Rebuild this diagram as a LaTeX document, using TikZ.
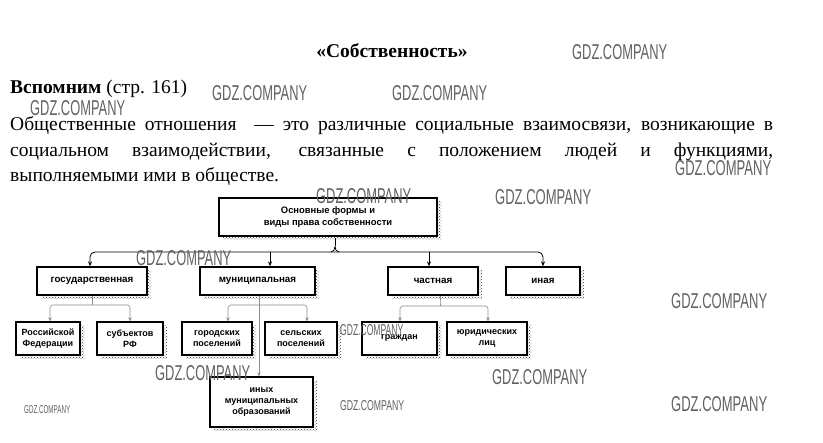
\documentclass[tikz,border=0pt]{standalone}
\usepackage{fontspec}
\setmainfont{Liberation Serif}
\newfontfamily\dfont{Liberation Sans}
\usetikzlibrary{arrows.meta,calc,shadows,patterns}
\newcommand\gdzmark[5]{\node[anchor=west, inner sep=0pt, text=black!62] (#1) at (#2,#3) {\resizebox{#4pt}{#5pt}{\dfont GDZ.COMPANY}};}
\tikzset{
  box/.style={draw=black, line width=1.3pt, fill=white, inner sep=1pt, align=center,
    font=\dfont\bfseries\fontsize{9}{11}\selectfont,
    general shadow={shadow xshift=4pt, shadow yshift=-4pt, pattern=crosshatch dots, pattern color=black!80}},
  lvtwo/.style={font=\dfont\bfseries\fontsize{9.8}{12}\selectfont},
  main/.style={line width=0.8pt, draw=black},
  arr/.style={-{Stealth[length=5pt,width=4pt]}},
  garr/.style={line width=0.6pt, draw=black!45, {Stealth[length=4pt,width=3.5pt]}-{Stealth[length=4pt,width=3.5pt]}},
  gline/.style={line width=0.6pt, draw=black!45},
  txt/.style={inner sep=0pt, anchor=base west, font=\fontsize{19.5}{24}\selectfont}
}
\begin{document}
\begin{tikzpicture}[x=1pt,y=-1pt]
\useasboundingbox[fill=white] (0,0) rectangle (823,443);

% header texts
\node[inner sep=0pt, anchor=base, font=\fontsize{19.5}{24}\selectfont\bfseries] (title) at (392,58) {«Собственность»};
\node[txt] (rem) at (10,94) {\textbf{Вспомним} (стр. 161)};
\node[txt] (p1) at (10,131) {\makebox[763pt][s]{Общественные отношения \ — это различные социальные взаимосвязи, возникающие в}};
\node[txt] (p2) at (10,156.5) {\makebox[763pt][s]{социальном взаимодействии, связанные с положением людей и функциями,}};
\node[txt] (p3) at (10,182) {выполняемыми ими в обществе.};

% boxes
\node[box, font=\dfont\bfseries\fontsize{9.4}{12}\selectfont, minimum width=218pt, minimum height=38pt] (top) at (328,217) {Основные формы и\\виды права собственности};

\node[box, lvtwo, minimum width=110pt, minimum height=28pt] (gos) at (92,281) {государственная};
\node[box, lvtwo, minimum width=115pt, minimum height=28pt] (mun) at (257.5,281) {муниципальная};
\node[box, lvtwo, minimum width=90pt, minimum height=28pt] (cha) at (433,281) {частная};
\node[box, lvtwo, minimum width=74pt, minimum height=28pt] (ina) at (543,281) {иная};

\node[box, minimum width=64pt, minimum height=33pt] (rf) at (48,338.5) {Российской\\Федерации};
\node[box, minimum width=66pt, minimum height=33pt] (sub) at (130,338.5) {субъектов\\РФ};
\node[box, minimum width=70pt, minimum height=33pt] (gor) at (217,338.5) {городских\\поселений};
\node[box, minimum width=72pt, minimum height=33pt] (sel) at (301,338.5) {сельских\\поселений};
\node[box, minimum width=75pt, minimum height=33pt] (gra) at (399.5,338.5) {граждан};
\node[box, minimum width=80pt, minimum height=33pt] (yur) at (487,338.5) {юридических\\лиц};
\node[box, minimum width=103pt, minimum height=50pt] (iny) at (261.5,402) {иных\\муниципальных\\образований};

% top level connectors
\coordinate (bus) at (335,252);
\coordinate (brc) at (335,246.5);
\draw[main] (335,238) coordinate (tb) -- (brc);
\draw[main] (brc) to[out=-90,in=0] ($(brc)+(-4,5.5)$);
\draw[main] (brc) to[out=-90,in=180] ($(brc)+(4,5.5)$);
\coordinate (g1) at ($(gos.north)+(-2,0)$);
\draw[main, {Stealth[length=5pt,width=4pt]}-{Stealth[length=5pt,width=4pt]}, rounded corners=5pt] (g1) |- (bus) -| (ina.north);
\coordinate (m1) at ($(mun.north)+(12.5,0)$);
\draw[main, arr] (m1 |- bus) -- (m1);
\coordinate (c1) at ($(cha.north)+(-4,0)$);
\draw[main, arr] (c1 |- bus) -- (c1);

% second level connectors
\coordinate (gb) at (92,305);
\draw[gline] (gos.south) -- (gb);
\draw[garr, rounded corners=3pt] ($(rf.north)+(2,0)$) |- (gb) -| (sub.north);
\coordinate (mb) at (259,305);
\coordinate (gx) at ($(gor.north)+(11,0)$);
\coordinate (sx) at ($(sel.north)+(6,0)$);
\draw[garr, rounded corners=3pt] (gx) |- (mb) -| (sx);
\coordinate (iy) at ($(iny.north)+(-2.5,0)$);
\draw[gline, -{Stealth[length=4pt,width=3.5pt]}] (iy |- mun.south) -- (iy);
\coordinate (cb) at (440,306);
\draw[gline, rounded corners=3pt] ($(cha.south)+(7,0)$) |- (cb);
\draw[garr, rounded corners=3pt] ($(gra.north)+(0.5,0)$) |- (cb) -| ($(yur.north)+(1,0)$);

% watermarks
\gdzmark{w1}{572}{52}{95}{15}
\gdzmark{w2}{212}{93}{95}{15}
\gdzmark{w3}{392}{93}{95}{15}
\gdzmark{w4}{30}{108}{95}{15}
\gdzmark{w5}{675}{168}{96}{15}
\gdzmark{w6}{316}{196}{95}{15}
\gdzmark{w7}{495}{197}{96}{15}
\gdzmark{w8}{136}{258}{95}{15}
\gdzmark{w9}{671}{301}{96}{15}
\gdzmark{w10}{340}{330}{63}{11}
\gdzmark{w11}{155}{373}{95}{15}
\gdzmark{w12}{492}{377}{95}{15}
\gdzmark{w13}{340}{406}{64}{10}
\gdzmark{w14}{671}{404}{96}{15}
\gdzmark{w15}{24}{410}{46}{8}
\end{tikzpicture}
\end{document}
